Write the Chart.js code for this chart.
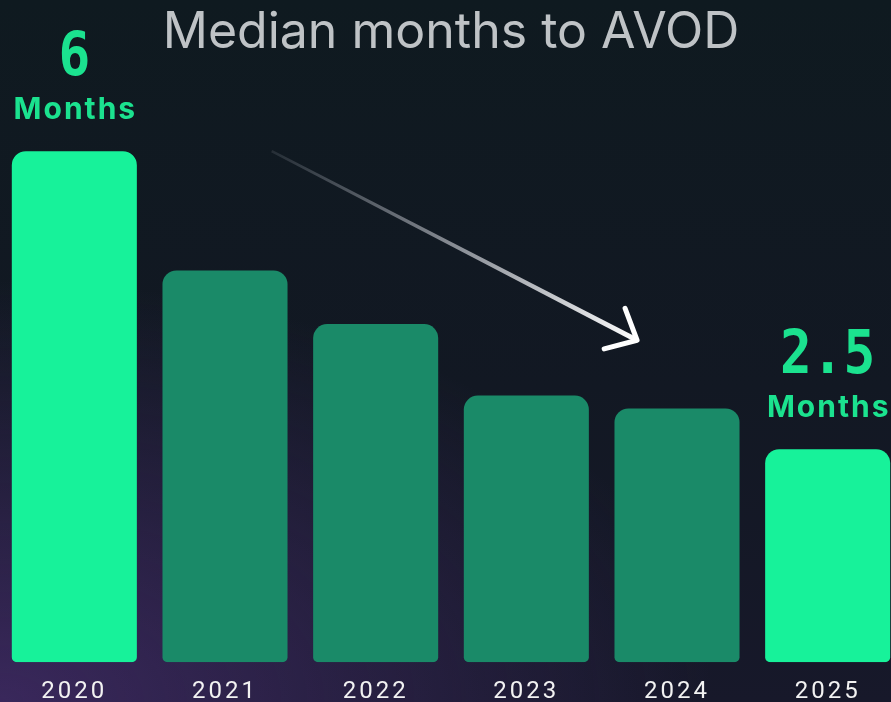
<!DOCTYPE html>
<html>
<head>
<meta charset="utf-8">
<script src="https://cdn.jsdelivr.net/npm/chart.js@4/dist/chart.umd.min.js"></script>
<style>
  html, body { margin: 0; padding: 0; width: 891px; height: 702px; overflow: hidden; }
  body {
    background:
      radial-gradient(ellipse 80% 60% at 0% 100%, rgba(76, 48, 118, 0.65), rgba(76, 48, 118, 0) 100%),
      linear-gradient(180deg, #0f1a20 0%, #121823 55%, #17182a 100%);
  }
  #wrap { position: absolute; left: -1px; top: 0; }
</style>
</head>
<body>
<div id="wrap"><canvas id="avodChart" width="904" height="721"></canvas></div>
<script>
// data
var years = ['2020', '2021', '2022', '2023', '2024', '2025'];
var medianMonths = [6, 4.6, 3.97, 3.13, 2.98, 2.5];
var calloutIndex = [0, 5];
var calloutUnit = 'Months';
var chartTitle = 'Median months to AVOD';

var brightGreen = '#17f29a';
var dimGreen = '#1a8a68';

var calloutPlugin = {
    id: 'callouts',
    afterDatasetsDraw: function (chart) {
        var ctx = chart.ctx;
        var meta = chart.getDatasetMeta(0);
        ctx.save();
        ctx.fillStyle = '#1be28f';
        ctx.textAlign = 'center';
        ctx.textBaseline = 'alphabetic';
        calloutIndex.forEach(function (i) {
            var bar = meta.data[i];
            var base = bar.y - 32;
            ctx.font = 'bold 30px Inter';
            ctx.letterSpacing = '2px';
            ctx.fillText(calloutUnit, bar.x + 1, base);
            ctx.save();
            ctx.translate(bar.x, base - 44);
            ctx.scale(0.88, 1);
            ctx.font = 'bold 60px "DejaVu Sans Mono"';
            ctx.letterSpacing = '0px';
            ctx.fillText(String(medianMonths[i]), 0, 0);
            ctx.restore();
        });
        ctx.restore();
    }
};

var arrowPlugin = {
    id: 'trendArrow',
    afterDatasetsDraw: function (chart) {
        var ctx = chart.ctx;
        var x = chart.scales.x, y = chart.scales.y;
        var x0 = x.getPixelForValue(1.31), y0 = y.getPixelForValue(6.0);
        var x1 = x.getPixelForValue(3.735), y1 = y.getPixelForValue(3.78);
        var ang = Math.atan2(y1 - y0, x1 - x0);
        var nx = -Math.sin(ang), ny = Math.cos(ang);
        var grad = ctx.createLinearGradient(x0, y0, x1, y1);
        grad.addColorStop(0, 'rgba(200,205,215,0.12)');
        grad.addColorStop(0.45, 'rgba(215,218,225,0.55)');
        grad.addColorStop(1, 'rgba(255,255,255,1)');
        ctx.save();
        ctx.fillStyle = grad;
        ctx.beginPath();
        ctx.moveTo(x0 + nx * 1.2, y0 + ny * 1.2);
        ctx.lineTo(x1 + nx * 2.5, y1 + ny * 2.5);
        ctx.lineTo(x1 - nx * 2.5, y1 - ny * 2.5);
        ctx.lineTo(x0 - nx * 1.2, y0 - ny * 1.2);
        ctx.closePath();
        ctx.fill();
        // head
        ctx.strokeStyle = '#ffffff';
        ctx.lineWidth = 5;
        ctx.lineCap = 'round';
        ctx.lineJoin = 'round';
        var back = ang + Math.PI, spread = 42 * Math.PI / 180, len = 34;
        ctx.beginPath();
        ctx.moveTo(x1 + Math.cos(back + spread) * len, y1 + Math.sin(back + spread) * len);
        ctx.lineTo(x1, y1);
        ctx.lineTo(x1 + Math.cos(back - spread) * len, y1 + Math.sin(back - spread) * len);
        ctx.stroke();
        ctx.restore();
    }
};

// letter spacing only for the year labels (tick labels drawn after datasets)
var spacingPlugin = {
    id: 'tickSpacing',
    beforeDraw: function (chart) { chart.ctx.letterSpacing = '0px'; },
    afterDatasetsDraw: function (chart) { chart.ctx.letterSpacing = '3px'; },
    afterDraw: function (chart) { chart.ctx.letterSpacing = '0px'; }
};

var avodChart = new Chart(document.getElementById('avodChart'), {
    type: 'bar',
    data: {
        labels: years,
        datasets: [{
            data: medianMonths,
            backgroundColor: function (c) {
                return calloutIndex.indexOf(c.dataIndex) >= 0 ? brightGreen : dimGreen;
            },
            borderRadius: { topLeft: 14, topRight: 14, bottomLeft: 5, bottomRight: 5 },
            borderSkipped: false,
            barPercentage: 0.83,
            categoryPercentage: 1
        }]
    },
    options: {
        responsive: false,
        animation: false,
        devicePixelRatio: 1,
        layout: { padding: 0 },
        plugins: {
            legend: { display: false },
            tooltip: { enabled: false },
            title: {
                display: true,
                text: chartTitle,
                color: '#bfc3c6',
                font: { family: 'Inter', size: 50, weight: 'normal', lineHeight: 1.2 },
                padding: { top: 3, bottom: 3 }
            }
        },
        scales: {
            x: {
                grid: { display: false, drawTicks: false },
                border: { display: false },
                ticks: {
                    z: 1,
                    color: '#f2f2f2',
                    font: { family: 'Roboto', size: 24, lineHeight: 1.2 },
                    padding: 15
                }
            },
            y: { display: false, min: 0, max: 7 }
        }
    },
    plugins: [calloutPlugin, arrowPlugin, spacingPlugin]
});
</script>
</body>
</html>
